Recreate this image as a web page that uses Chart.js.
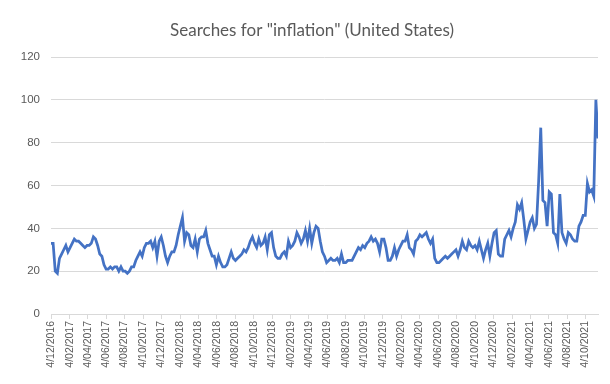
<!DOCTYPE html>
<html>
<head>
<meta charset="utf-8">
<script src="https://cdn.jsdelivr.net/npm/chart.js@4.4.1/dist/chart.umd.min.js"></script>
<style>
  html, body { margin: 0; padding: 0; background: #fff; }
  #wrap { width: 610px; height: 384px; }
</style>
</head>
<body>
<div id="wrap"><canvas id="myChart"></canvas></div>
<script>
// weekly google trends values, first week starts 4/12/2016 (d/mm/yyyy)
const startDate = "4/12/2016";
const searches = [
  33, 33, 20, 19, 26, 28, 30, 32, 29, 31,
  33, 35, 34, 34, 33, 32, 31, 32, 32, 33,
  36, 35, 32, 28, 27, 23, 21, 21, 22, 21,
  22, 22, 20, 22, 20, 20, 19, 20, 22, 22,
  25, 27, 29, 27, 31, 33, 33, 34, 31, 34,
  27, 34, 36, 32, 27, 24, 27, 29, 29, 32,
  37, 41, 45, 34, 38, 37, 32, 31, 35, 29,
  35, 36, 36, 39, 33, 30, 27, 27, 23, 27,
  24, 22, 22, 23, 26, 29, 26, 25, 26, 27,
  28, 30, 29, 31, 34, 36, 33, 31, 35, 32,
  33, 36, 30, 37, 38, 31, 27, 26, 26, 28,
  29, 27, 34, 31, 32, 34, 38, 36, 33, 35,
  39, 34, 40, 33, 38, 41, 40, 34, 29, 27,
  24, 25, 26, 25, 25, 26, 24, 28, 24, 24,
  25, 25, 25, 27, 29, 31, 30, 32, 31, 33,
  34, 36, 34, 35, 33, 29, 35, 35, 31, 25,
  25, 27, 31, 27, 30, 32, 34, 34, 37, 31,
  30, 28, 34, 35, 37, 36, 37, 38, 35, 33,
  35, 26, 24, 24, 25, 26, 27, 26, 27, 28,
  29, 30, 27, 30, 34, 31, 30, 34, 32, 31,
  32, 30, 34, 30, 26, 30, 33, 27, 33, 38,
  39, 28, 27, 27, 35, 37, 39, 36, 40, 43,
  51, 49, 52, 44, 35, 39, 43, 45, 40, 42,
  62, 87, 53, 52, 41, 57, 56, 38, 37, 33,
  56, 38, 35, 33, 38, 37, 35, 34, 34, 41,
  43, 46, 46, 61, 57, 58, 55, 100, 82
];
const tickLabels = [
  "4/12/2016", "4/02/2017", "4/04/2017", "4/06/2017", "4/08/2017", "4/10/2017",
  "4/12/2017", "4/02/2018", "4/04/2018", "4/06/2018", "4/08/2018", "4/10/2018",
  "4/12/2018", "4/02/2019", "4/04/2019", "4/06/2019", "4/08/2019", "4/10/2019",
  "4/12/2019", "4/02/2020", "4/04/2020", "4/06/2020", "4/08/2020", "4/10/2020",
  "4/12/2020", "4/02/2021", "4/04/2021", "4/06/2021", "4/08/2021", "4/10/2021"
];
const yTicks = [0, 20, 40, 60, 80, 100, 120];

function dayOf(s) {
  let p = s.split("/").map(Number);
  let s0 = startDate.split("/").map(Number);
  return (Date.UTC(p[2], p[1] - 1, p[0]) - Date.UTC(s0[2], s0[1] - 1, s0[0])) / 86400000;
}

let points = [];
for (let i = 0; i < searches.length; i++) {
  points.push({ x: i * 7, y: searches[i] });
}

const grey = "#595959";
const gridCol = "#d9d9d9";

// nudge the title a little to the right, the original isn't centred on the canvas
const titleShift = {
  id: "titleShift",
  afterLayout(chart) {
    if (chart.titleBlock) chart.titleBlock.left += 26;
  }
};

new Chart("myChart", {
  type: "line",
  data: {
    datasets: [{
      data: points,
      borderColor: "#4472C4",
      borderWidth: 2.75,
      pointRadius: 0,
      tension: 0,
      fill: false
    }]
  },
  options: {
    responsive: true,
    maintainAspectRatio: false,
    animation: false,
    layout: { padding: { left: 0, right: 12, top: 0, bottom: 0 } },
    plugins: {
      legend: { display: false },
      tooltip: { enabled: false },
      title: {
        display: true,
        text: 'Searches for "inflation" (United States)',
        color: grey,
        font: { family: "Lato", size: 17, weight: "normal" },
        padding: { top: 20, bottom: 16.6 }
      }
    },
    scales: {
      x: {
        type: "linear",
        min: 0,
        max: (searches.length - 1) * 7,
        afterBuildTicks: function (scale) {
          scale.ticks = tickLabels.map(l => ({ value: dayOf(l) }));
        },
        afterFit: function (scale) { scale.height = 70; },
        grid: { drawOnChartArea: false, drawTicks: true, tickLength: 5, color: gridCol },
        border: { display: true, color: gridCol },
        ticks: {
          autoSkip: false,
          minRotation: 90,
          maxRotation: 90,
          padding: 2,
          color: grey,
          font: { family: "Liberation Sans", size: 10.5 },
          callback: function (v, i) { return tickLabels[i]; }
        }
      },
      y: {
        min: 0,
        max: 120,
        afterBuildTicks: function (scale) {
          scale.ticks = yTicks.map(v => ({ value: v }));
        },
        afterFit: function (scale) { scale.width = 51; },
        grid: { color: gridCol, drawTicks: false },
        border: { display: false },
        ticks: {
          padding: 11,
          color: grey,
          font: { family: "Liberation Sans", size: 11.5 }
        }
      }
    }
  },
  plugins: [titleShift]
});
</script>
</body>
</html>
